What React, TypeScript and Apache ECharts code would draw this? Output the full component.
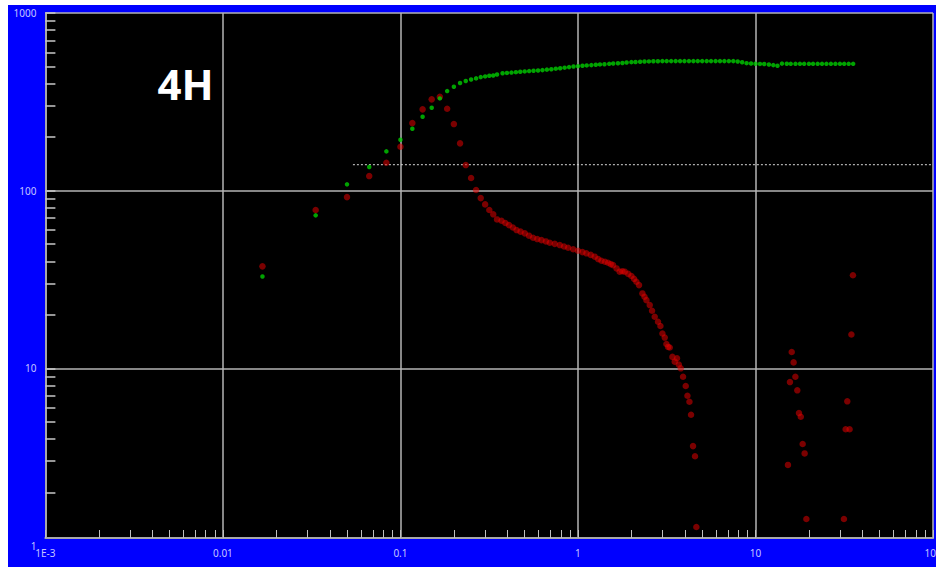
import React, { useEffect, useRef } from "react";
import * as echarts from "echarts";

// Sample times (h) for the first minutes
const earlyX = [0.0167, 0.0333, 0.05, 0.0667, 0.0833, 0.1, 0.1167, 0.1333, 0.15, 0.1667, 0.1833, 0.2, 0.2167, 0.2333, 0.25, 0.2667, 0.2833, 0.3, 0.3167, 0.3333, 0.35];
const greenEarlyY = [32.9, 72.6, 108.5, 135.8, 166.4, 193.5, 223, 260.6, 292.9, 330.6, 363.5, 384.5, 403.3, 413.9, 422.7, 428.5, 435.6, 439.7, 443.3, 445, 451];
const redEarlyY = [37.5, 77.8, 92, 120.8, 143.6, 176.6, 240, 286.8, 326.5, 337.7, 289, 237, 184.6, 139.3, 117.8, 100.8, 90.8, 83.7, 77.8, 73.6, 68.9];

// Green (later part)
const greenLateX = [0.376, 0.398, 0.422, 0.447, 0.473, 0.501, 0.531, 0.562, 0.596, 0.631, 0.668, 0.708, 0.75, 0.794, 0.841, 0.891, 0.944, 1.0, 1.06, 1.12, 1.19, 1.26, 1.33, 1.41, 1.5, 1.58, 1.68, 1.78, 1.88, 2.0, 2.11, 2.24, 2.37, 2.51, 2.66, 2.82, 2.99, 3.16, 3.35, 3.55, 3.76, 3.98, 4.22, 4.47, 4.73, 5.01, 5.31, 5.62, 5.96, 6.31, 6.68, 7.08, 7.5, 7.94, 8.41, 8.91, 9.44, 10.0, 10.6, 11.2, 11.9, 12.6, 13.3, 14.1, 15.0, 15.8, 16.8, 17.8, 18.8, 20.0, 21.1, 22.4, 23.7, 25.1, 26.6, 28.2, 29.9, 31.6, 33.5, 35.5];
const greenLateY = [458, 460, 462, 464.5, 467, 469, 471, 473, 475, 477, 480, 482.5, 486, 489, 492.5, 496, 500, 502, 505, 507, 509, 511, 513.6, 515, 517.5, 519.5, 521, 523.5, 526, 529, 530, 531.5, 533, 534, 535, 535.5, 536, 536, 536, 536, 536, 536, 536, 536, 536, 536, 536, 536, 536, 536, 536, 536, 536, 533, 528, 522, 520, 518, 517, 516, 513, 509, 505, 519, 518, 517.5, 517.5, 517.5, 517.5, 517.5, 517.5, 517.5, 517.5, 517.5, 517.5, 517.5, 517.5, 517.5, 517.5, 517.5];

// Red (later part)
const redLateX = [0.371, 0.39, 0.409, 0.43, 0.451, 0.475, 0.502, 0.53, 0.559, 0.59, 0.623, 0.66, 0.694, 0.74, 0.79, 0.835, 0.88, 0.94, 1.0, 1.06, 1.116, 1.18, 1.243, 1.3, 1.356, 1.42, 1.477, 1.53, 1.577, 1.65, 1.719, 1.78, 1.834, 1.92, 2.0, 2.07, 2.134, 2.208, 2.307, 2.37, 2.431, 2.537, 2.614, 2.706, 2.825, 2.914, 2.991, 3.082, 3.15, 3.22, 3.289, 3.405, 3.509, 3.615, 3.7, 3.793, 3.908, 4.047, 4.137, 4.246, 4.335, 4.448, 4.564, 4.645];
const redLateY = [67.7, 65.8, 64.0, 62.0, 60.0, 58.8, 57.5, 55.8, 54.3, 53.4, 52.7, 51.8, 50.9, 50.2, 49.4, 48.5, 47.7, 46.8, 45.9, 45.1, 44.4, 43.5, 42.5, 41.2, 40.3, 39.8, 39.3, 38.6, 38.1, 36.5, 35.0, 35.2, 35.0, 34.0, 33.1, 31.9, 30.7, 29.4, 26.4, 25.3, 24.2, 22.7, 21.1, 19.5, 18.3, 17.3, 15.7, 14.9, 13.7, 13.2, 13.1, 11.6, 10.9, 11.4, 10.5, 10.0, 8.97, 7.95, 7.01, 6.49, 5.48, 3.65, 3.2, 1.28];

// Red (scattered, late times)
const redTailX = [35.4, 34.7, 16.0, 16.4, 16.78, 15.64, 17.2, 32.9, 17.58, 18.0, 32.2, 33.9, 18.44, 18.92, 15.24, 19.35, 31.5];
const redTailY = [33.4, 15.5, 12.35, 10.8, 8.97, 8.37, 7.52, 6.52, 5.6, 5.34, 4.54, 4.54, 3.75, 3.32, 2.86, 1.42, 1.42];

// Threshold line
const thresholdX = [0.054, 100];
const thresholdY = 140;

const xTickValues = [
  0.001, 0.002, 0.003, 0.004, 0.005, 0.006, 0.007, 0.008, 0.009,
  0.01, 0.02, 0.03, 0.04, 0.05, 0.06, 0.07, 0.08, 0.09,
  0.1, 0.2, 0.3, 0.4, 0.5, 0.6, 0.7, 0.8, 0.9,
  1, 2, 3, 4, 5, 6, 7, 8, 9,
  10, 20, 30, 40, 50, 60, 70, 80, 90, 100,
];
const yTickValues = [
  2, 3, 4, 5, 6, 7, 8, 9,
  10, 20, 30, 40, 50, 60, 70, 80, 90,
  100, 200, 300, 400, 500, 600, 700, 800, 900, 1000,
];

const titleText = "4H";

function pairs(xs: number[], ys: number[]) {
  return xs.map((x, i) => [x, ys[i]]);
}

export default function App() {
  const ref = useRef<HTMLDivElement>(null);
  useEffect(() => {
    if (!ref.current) return;
    const chart = echarts.init(ref.current, undefined, { renderer: "svg" });
    const labelColor = "#c4c4ff";
    const xFmt = (v: number) => (v < 0.005 ? "1E-3" : String(+v.toPrecision(6)));
    const gridLine = { color: "#b4b4b4", width: 1.5 };
    chart.setOption({
      animation: false,
      backgroundColor: "#0000ff",
      grid: {
        left: 37.4,
        right: 3,
        top: 8,
        bottom: 21,
        show: true,
        backgroundColor: "#000000",
        borderWidth: 0,
        containLabel: false,
        outerBoundsMode: "none",
      },
      xAxis: [
        {
          type: "log",
          logBase: 10,
          min: 0.001,
          max: 100,
          position: "bottom",
          z: 0,
          axisLine: { show: false },
          axisTick: { show: false },
          axisLabel: { show: false },
          splitLine: { show: true, lineStyle: gridLine },
        },
        {
          type: "log",
          logBase: 10,
          min: 0.001,
          max: 100,
          position: "bottom",
          offset: -8,
          z: 100,
          axisLine: { show: true, lineStyle: { color: "#a8a8a8", width: 2 } },
          axisTick: {
            show: true,
            inside: true,
            length: 8,
            customValues: xTickValues,
            lineStyle: { color: "#c0c0c0", width: 1 },
          },
          axisLabel: {
            show: true,
            color: labelColor,
            fontSize: 10,
            fontFamily: "Noto Sans",
            margin: 10,
            formatter: xFmt,
          },
          splitLine: { show: false },
        },
      ],
      yAxis: [
        {
          type: "log",
          logBase: 10,
          min: 1,
          max: 1000,
          position: "left",
          z: 0,
          axisLine: { show: true, lineStyle: { color: "#a8a8a8", width: 2 } },
          axisTick: { show: false },
          axisLabel: { show: false },
          splitLine: { show: true, lineStyle: gridLine },
        },
        {
          type: "log",
          logBase: 10,
          min: 1,
          max: 1000,
          position: "left",
          offset: 0,
          z: 100,
          axisLine: { show: false },
          axisTick: {
            show: true,
            inside: true,
            length: 10,
            customValues: yTickValues,
            lineStyle: { color: "#c8c8c8", width: 1.5 },
          },
          axisLabel: {
            show: true,
            color: labelColor,
            fontSize: 10,
            fontFamily: "Noto Sans",
            margin: 9,
            formatter: (v: number) => String(Math.round(v)),
          },
          splitLine: { show: false },
        },
      ],
      graphic: [
        {
          type: "rect",
          z: 50,
          silent: true,
          shape: { x: 36, y: 533.5, width: 892, height: 10 },
          style: { fill: "#0000ff" },
        },
        {
          type: "text",
          z: 60,
          x: 177.5,
          y: 78,
          style: {
            text: titleText,
            fill: "#ffffff",
            font: "bold 42px 'Noto Sans'",
            textAlign: "center",
            textVerticalAlign: "middle",
          },
        },
      ],
      series: [
        {
          type: "line",
          xAxisIndex: 0,
          yAxisIndex: 0,
          data: thresholdX.map((x) => [x, thresholdY]),
          showSymbol: false,
          symbol: "none",
          lineStyle: { color: "#d8d8d8", width: 1, type: [2, 2] },
          z: 3,
        },
        {
          type: "scatter",
          name: "red",
          xAxisIndex: 0,
          yAxisIndex: 0,
          symbol: "circle",
          symbolSize: 6.5,
          itemStyle: { color: "#e00000", opacity: 0.55 },
          data: [
            ...pairs(earlyX, redEarlyY),
            ...pairs(redLateX, redLateY),
            ...pairs(redTailX, redTailY),
          ],
          z: 4,
        },
        {
          type: "scatter",
          name: "green",
          xAxisIndex: 0,
          yAxisIndex: 0,
          symbol: "circle",
          symbolSize: 4.5,
          itemStyle: { color: "#00cc00" },
          data: [...pairs(earlyX, greenEarlyY), ...pairs(greenLateX, greenLateY)],
          z: 5,
        },
      ],
    });
    return () => chart.dispose();
  }, []);
  return (
    <div
      ref={ref}
      style={{ position: "absolute", left: 8, top: 5, width: 928, height: 562 }}
    />
  );
}
